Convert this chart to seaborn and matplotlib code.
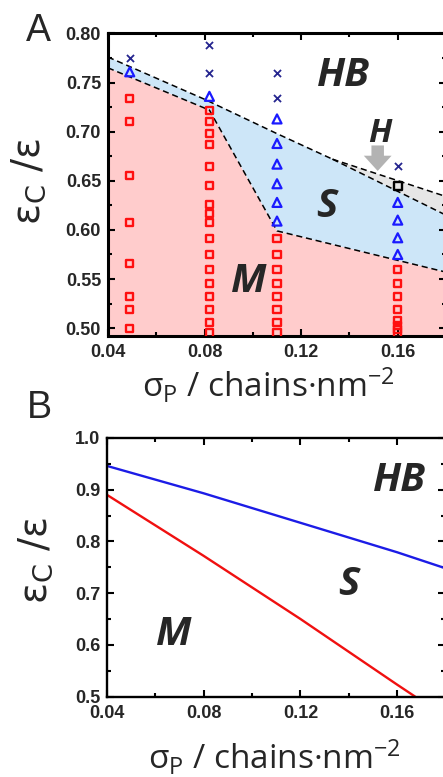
import numpy as np
import pandas as pd
import matplotlib
matplotlib.use("Agg")
import matplotlib.pyplot as plt
from matplotlib.ticker import MultipleLocator
import seaborn as sns

# ---- data: panel A (simulation points) ----
col_x = [0.049, 0.082, 0.110, 0.160]

cross_y = [[0.775], [0.788, 0.760], [0.760, 0.734], [0.665]]
tri_y = [[0.761], [0.736],
         [0.713, 0.688, 0.667, 0.647, 0.628, 0.609],
         [0.628, 0.610, 0.592, 0.575]]
sq_y = [[0.734, 0.710, 0.655, 0.608, 0.566, 0.532, 0.519, 0.500],
        [0.722, 0.710, 0.698, 0.687, 0.665, 0.645, 0.626, 0.617, 0.608,
         0.591, 0.575, 0.560, 0.545, 0.532, 0.519, 0.506, 0.495],
        [0.591, 0.575, 0.560, 0.545, 0.532, 0.519, 0.506, 0.495],
        [0.560, 0.545, 0.532, 0.519, 0.508, 0.503, 0.499, 0.495]]
hex_x = [0.160]
hex_y = [0.645]

# phase boundaries (panel A)
ms_x = [0.04, 0.082, 0.110, 0.160, 0.18]
ms_y = [0.765, 0.722, 0.599, 0.569, 0.557]
hbs_x = [0.04, 0.080, 0.110, 0.133]
hbs_y = [0.776, 0.733, 0.698, 0.672]
hbh_x = [0.133, 0.18]
hbh_y = [0.672, 0.634]
sh_x = [0.133, 0.18]
sh_y = [0.672, 0.615]

# ---- data: panel B (theory lines) ----
blue_x = [0.04, 0.08, 0.12, 0.16, 0.18]
blue_y = [0.946, 0.893, 0.836, 0.779, 0.748]
red_x = [0.04, 0.08, 0.12, 0.16, 0.1674]
red_y = [0.890, 0.772, 0.650, 0.523, 0.500]

def to_frame(xs, ys):
    rows = [(x, y) for x, col in zip(xs, ys) for y in col]
    return pd.DataFrame(rows, columns=["sigma", "eps"])

df_cross = to_frame(col_x, cross_y)
df_tri = to_frame(col_x, tri_y)
df_sq = to_frame(col_x, sq_y)
df_hex = pd.DataFrame({"sigma": hex_x, "eps": hex_y})

sns.set_style("ticks")
plt.rcParams["font.family"] = ["Liberation Sans", "DejaVu Sans"]
plt.rcParams["mathtext.default"] = "regular"

fig = plt.figure(figsize=(4.43, 7.77), dpi=100)
axA = fig.add_axes([0.2438, 0.5676, 0.763, 0.3893])
axB = fig.add_axes([0.2415, 0.1036, 0.764, 0.3327])

PINK = "#ffcccc"
BLUE = "#cde6f8"
GREY = "#e6e6e6"

# --- Panel A fills ---
axA.fill(ms_x + [0.18, 0.04], ms_y + [0.40, 0.40], color=PINK, lw=0, zorder=0)
up_x = hbs_x + sh_x[1:]
up_y = hbs_y + sh_y[1:]
axA.fill(ms_x + up_x[::-1], ms_y + up_y[::-1], color=BLUE, lw=0, zorder=0)
axA.fill(sh_x + hbh_x[::-1], sh_y + hbh_y[::-1], color=GREY, lw=0, zorder=0)

dash = dict(color="black", lw=1.1, dashes=(4, 2.5), zorder=2)
for bx, by in [(ms_x, ms_y), (hbs_x, hbs_y), (hbh_x, hbh_y), (sh_x, sh_y)]:
    sns.lineplot(x=bx, y=by, ax=axA, sort=False, estimator=None, **dash)

sns.scatterplot(data=df_sq, x="sigma", y="eps", ax=axA, marker="s", s=26,
                facecolor="none", edgecolor="#ff1010", linewidth=1.7, zorder=3)
sns.scatterplot(data=df_tri, x="sigma", y="eps", ax=axA, marker="^", s=42,
                facecolor="none", edgecolor="#1a1aff", linewidth=1.6, zorder=3)
sns.scatterplot(data=df_cross, x="sigma", y="eps", ax=axA, marker="x", s=26,
                color="#25258f", linewidth=1.3, zorder=3)
sns.scatterplot(data=df_hex, x="sigma", y="eps", ax=axA, marker="s", s=30,
                facecolor="none", edgecolor="black", linewidth=1.7, zorder=3)

axA.annotate("", xy=(0.1517, 0.660), xytext=(0.1517, 0.686),
             arrowprops=dict(arrowstyle="simple,head_length=0.55,head_width=1.0,tail_width=0.45",
                             fc="#b3b3b3", ec="none", shrinkA=0, shrinkB=0,
                             mutation_scale=20), zorder=4)

lab = dict(fontsize=29, fontweight="bold", fontstyle="italic",
           ha="center", va="center", family=["Open Sans", "DejaVu Sans"])
axA.text(0.1374, 0.757, "HB", **lab)
axA.text(0.1525, 0.698, "H", **dict(lab, fontsize=24))
axA.text(0.1305, 0.624, "S", **lab)
axA.text(0.0983, 0.547, "M", **lab)

axA.set_xlim(0.04, 0.18)
axA.set_ylim(0.492, 0.80)
axA.xaxis.set_minor_locator(MultipleLocator(0.02))
axA.yaxis.set_minor_locator(MultipleLocator(0.025))
axA.set_xticks([0.04, 0.08, 0.12, 0.16])
axA.set_xticklabels(["0.04", "0.08", "0.12", "0.16"])
axA.set_yticks([0.50, 0.55, 0.60, 0.65, 0.70, 0.75, 0.80])
axA.set_yticklabels(["0.50", "0.55", "0.60", "0.65", "0.70", "0.75", "0.80"])

# --- Panel B ---
sns.lineplot(x=blue_x, y=blue_y, ax=axB, color="#1c1ce6", lw=1.7, sort=False, estimator=None)
sns.lineplot(x=red_x, y=red_y, ax=axB, color="#f01010", lw=1.7, sort=False, estimator=None)
axB.text(0.1608, 0.9175, "HB", **lab)
axB.text(0.1401, 0.717, "S", **lab)
axB.text(0.0674, 0.620, "M", **lab)

axB.set_xlim(0.04, 0.18)
axB.set_ylim(0.5, 1.0)
axB.set_xticks([0.04, 0.08, 0.12, 0.16])
axB.set_xticklabels(["0.04", "0.08", "0.12", "0.16"])
axB.xaxis.set_minor_locator(MultipleLocator(0.02))
axB.set_yticks([0.5, 0.6, 0.7, 0.8, 0.9, 1.0])
axB.set_yticklabels(["0.5", "0.6", "0.7", "0.8", "0.9", "1.0"])
axB.yaxis.set_minor_locator(MultipleLocator(0.05))

xlab = "σ$_{\\mathregular{P}}$ / chains·nm$^{\\mathregular{-2}}$"
ylab = "ε$_{\\mathregular{C}}$ /ε"
for ax, spw in [(axA, 2.2), (axB, 1.7)]:
    for sp in ax.spines.values():
        sp.set_linewidth(spw)
        sp.set_color("black")
    ax.tick_params(which="both", direction="in", top=True, right=True, width=1.5, color="black")
    ax.tick_params(which="major", length=5, labelsize=13)
    ax.tick_params(which="minor", length=3)
    ax.tick_params(axis="y", which="major", pad=5)
    ax.tick_params(axis="x", which="major", pad=6)
    for t in ax.get_xticklabels() + ax.get_yticklabels():
        t.set_fontweight("bold")
    ax.set_xlabel(xlab, fontsize=24, family=["Open Sans", "DejaVu Sans"])
    ax.set_ylabel(ylab, fontsize=28, family=["DejaVu Sans"])

axA.xaxis.set_label_coords(0.476, -0.1)
axA.yaxis.set_label_coords(-0.178, 0.512)
axB.xaxis.set_label_coords(0.496, -0.16)
axB.yaxis.set_label_coords(-0.154, 0.528)

fig.text(0.087, 0.960, "A", fontsize=27, ha="center", va="center")
fig.text(0.089, 0.475, "B", fontsize=27, ha="center", va="center")

fig.savefig("out.png", dpi=100)
